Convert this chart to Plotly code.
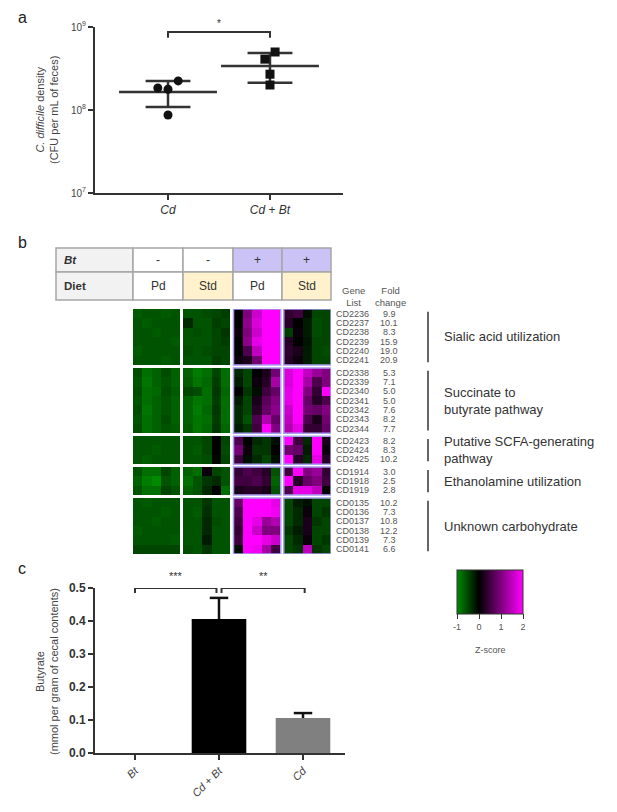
import plotly.graph_objects as go

W, H = 617, 812
FONT = "Liberation Sans, Arial, sans-serif"


def px(x):
    return x / W


def py(y):
    return 1 - y / H


# ---------------- Panel a data ----------------
group_a_labels = ["<i>Cd</i>", "<i>Cd</i> + <i>Bt</i>"]
cd_density = [1.84e8, 1.78e8, 2.24e8, 0.87e8]
cdbt_density = [4.1e8, 5.0e8, 2.7e8, 2.0e8]
cd_jitter = [-0.1, 0.0, 0.1, 0.0]
cdbt_jitter = [-0.05, 0.05, 0.0, 0.0]
density_mean = [1.65e8, 3.4e8]
density_upper = [2.24e8, 4.85e8]
density_lower = [1.09e8, 2.13e8]
density_ticks = [1e7, 1e8, 1e9]
density_ticktext = ["10<sup>7</sup>", "10<sup>8</sup>", "10<sup>9</sup>"]
sig_a = [(1, 2, "*", 8.7e8, 7.4e8)]

# ---------------- Panel c data ----------------
group_c_labels = ["<i>Bt</i>", "<i>Cd</i> + <i>Bt</i>", "<i>Cd</i>"]
butyrate_mean = [0.0, 0.406, 0.106]
butyrate_err = [0.0, 0.064, 0.015]
bar_colors = ["#000000", "#000000", "#808080"]
butyrate_ticks = [0.0, 0.1, 0.2, 0.3, 0.4, 0.5]
sig_c = [(0, 0.97, "***", 0.5, 0.485), (1.03, 2.02, "**", 0.5, 0.485)]

# ---------------- Panel b data ----------------
bt_row = ["-", "-", "+", "+"]
diet_row = ["Pd", "Std", "Pd", "Std"]

genes_sialic = ["CD2236", "CD2237", "CD2238", "CD2239", "CD2240", "CD2241"]
fold_sialic = ["9.9", "10.1", "8.3", "15.9", "19.0", "20.9"]
genes_succinate = ["CD2338", "CD2339", "CD2340", "CD2341", "CD2342", "CD2343", "CD2344"]
fold_succinate = ["5.3", "7.1", "5.0", "5.0", "7.6", "8.2", "7.7"]
genes_scfa = ["CD2423", "CD2424", "CD2425"]
fold_scfa = ["8.2", "8.3", "10.2"]
genes_ethanolamine = ["CD1914", "CD1918", "CD1919"]
fold_ethanolamine = ["3.0", "2.5", "2.8"]
genes_unknown = ["CD0135", "CD0136", "CD0137", "CD0138", "CD0139", "CD0141"]
fold_unknown = ["10.2", "7.3", "10.8", "12.2", "7.3", "6.6"]

pathways = ["Sialic acid utilization", "Succinate to<br>butyrate pathway",
            "Putative SCFA-generating<br>pathway", "Ethanolamine utilization",
            "Unknown carbohydrate"]

# z-scores: each row = 4 groups x 5 samples (-Bt Pd, -Bt Std, +Bt Pd, +Bt Std)
z_sialic = [
    [-0.65, -0.6, -0.6, -0.65, -0.6, -0.6, -0.6, -0.55, -0.5, -0.45, 0.0, 1.0, 1.6, 2.0, 2.0, 0.4, 0.5, -0.1, -0.5, -0.5],
    [-0.6, -0.65, -0.6, -0.6, -0.6, -0.3, -0.6, -0.6, -0.45, -0.5, 0.0, 1.1, 1.7, 2.0, 2.0, 0.3, 0.0, -0.2, -0.55, -0.5],
    [-0.6, -0.6, -0.65, -0.6, -0.6, -0.6, -0.55, -0.6, -0.5, -0.4, 0.1, 1.0, 1.6, 2.0, 2.0, -0.45, 0.1, -0.2, -0.55, -0.5],
    [-0.6, -0.6, -0.6, -0.6, -0.65, -0.6, -0.6, -0.6, -0.5, -0.45, 0.0, 1.1, 1.8, 2.0, 2.0, 0.3, 0.0, -0.15, -0.5, -0.5],
    [-0.65, -0.6, -0.6, -0.6, -0.6, -0.55, -0.6, -0.55, -0.5, -0.5, 0.0, 0.6, 1.5, 2.0, 2.0, 0.35, 0.2, -0.2, -0.5, -0.55],
    [-0.6, -0.6, -0.6, -0.65, -0.6, -0.6, -0.6, -0.6, -0.45, -0.5, 0.1, 0.2, 0.9, 2.0, 2.0, 0.3, 0.1, -0.2, -0.5, -0.5],
]
z_succinate = [
    [-0.55, -0.8, -0.7, -0.55, -0.7, -0.7, -0.9, -0.8, -0.5, -0.8, -0.3, -0.5, 0.0, 0.2, 0.9, 1.7, 2.0, 1.5, 1.2, 1.0],
    [-0.6, -0.85, -0.7, -0.6, -0.7, -0.65, -0.85, -0.75, -0.45, -0.8, -0.2, -0.5, 0.1, 0.3, 1.3, 1.7, 2.0, 1.3, 0.6, 1.0],
    [-0.55, -0.8, -0.75, -0.55, -0.65, -0.5, -0.55, -0.8, -0.4, -0.75, 0.0, -0.4, -0.1, 0.5, 0.8, 1.8, 2.0, 1.0, 0.4, 2.0],
    [-0.6, -0.8, -0.7, -0.6, -0.7, -0.7, -0.85, -0.8, -0.45, -0.8, -0.2, -0.5, 0.2, 0.7, 1.0, 1.8, 2.0, 0.8, 0.3, 0.6],
    [-0.55, -0.85, -0.7, -0.6, -0.7, -0.7, -0.9, -0.75, -0.4, -0.8, -0.3, -0.5, 0.3, 0.8, 1.1, 1.6, 2.0, 0.9, 0.8, 1.0],
    [-0.6, -0.8, -0.7, -0.55, -0.7, -0.7, -0.85, -0.8, -0.45, -0.8, -0.3, -0.6, 0.6, 1.4, 0.8, 1.5, 2.0, 0.6, 0.2, 0.9],
    [-0.55, -0.8, -0.7, -0.6, -0.65, -0.65, -0.85, -0.75, -0.4, -0.75, -0.2, -0.4, 0.5, 2.0, 1.0, 1.4, 1.8, 0.4, 0.4, 0.8],
]
z_scfa = [
    [-0.6, -0.6, -0.6, -0.6, -0.6, -0.6, -0.6, -0.5, 0.0, -0.5, 0.6, 0.0, -0.3, -0.4, -0.1, 2.0, 0.5, -0.3, 2.0, 0.2],
    [-0.6, -0.6, -0.65, -0.6, -0.6, -0.6, -0.65, -0.5, 0.0, -0.55, 0.9, 0.1, -0.4, -0.4, 0.0, 0.9, 0.8, -0.2, 2.0, 0.1],
    [-0.6, -0.65, -0.6, -0.6, -0.6, -0.6, -0.6, -0.55, -0.05, -0.5, 0.5, -0.1, -0.3, -0.5, -0.1, 2.0, 0.3, -0.3, 1.8, 0.3],
]
z_ethanolamine = [
    [-0.6, -0.8, -0.8, -0.5, -0.7, -0.7, -0.8, 0.1, -0.5, -0.6, 0.4, 0.6, 0.5, 0.3, -0.6, 0.5, 2.0, 1.0, 1.2, 0.4],
    [-0.7, -0.9, -1.0, -0.6, -0.7, -0.8, -0.6, -0.4, -0.3, -0.6, 0.5, 0.5, 0.6, 0.4, -0.7, 2.0, 0.3, 0.8, 1.0, 0.5],
    [-0.6, -0.8, -0.8, -0.5, -0.6, -0.7, -0.6, -0.3, 0.0, -0.8, 0.2, 0.3, 0.3, 0.2, -0.6, 0.6, 1.8, 1.8, 1.5, 0.0],
]
z_unknown = [
    [-0.6, -0.65, -0.6, -0.6, -0.6, -0.6, -0.6, -0.4, -0.6, -0.6, 0.8, 2.0, 2.0, 2.0, 1.8, -0.5, -0.2, -0.1, -0.5, -0.5],
    [-0.6, -0.6, -0.6, -0.65, -0.6, -0.6, -0.65, -0.35, -0.6, -0.6, 0.6, 2.0, 2.0, 2.0, 1.9, -0.5, -0.3, 0.1, -0.5, -0.4],
    [-0.6, -0.6, -0.65, -0.6, -0.6, -0.6, -0.6, -0.3, -0.55, -0.6, 0.5, 2.0, 1.8, 1.2, 1.4, -0.5, -0.3, 0.2, -0.4, -0.5],
    [-0.65, -0.6, -0.6, -0.6, -0.6, -0.6, -0.6, -0.3, -0.6, -0.6, 0.4, 2.0, 1.6, 1.0, 1.0, -0.4, -0.2, 0.2, -0.5, -0.5],
    [-0.6, -0.6, -0.6, -0.6, -0.65, -0.6, -0.6, -0.2, -0.6, -0.6, 0.5, 2.0, 2.0, 1.8, 1.6, -0.5, -0.3, 0.1, -0.5, -0.4],
    [-0.5, -0.5, -0.5, -0.5, -0.5, -0.55, -0.6, -0.4, -0.6, -0.6, -0.1, 2.0, 1.9, 1.3, 0.5, -0.5, -0.4, 1.5, -0.4, -0.5],
]

heat_groups = [z_sialic, z_succinate, z_scfa, z_ethanolamine, z_unknown]
gene_groups = [genes_sialic, genes_succinate, genes_scfa, genes_ethanolamine, genes_unknown]
fold_groups = [fold_sialic, fold_succinate, fold_scfa, fold_ethanolamine, fold_unknown]

colorscale = [[0, "#008a00"], [1 / 3, "#000000"], [1, "#ff00ff"]]

# ---------------- Build heatmap grid with gaps ----------------
N_BLOCK, PER_BLOCK, GAP = 4, 5, 0.32
xe = [0.0]
block_spans = []
for b in range(N_BLOCK):
    if b > 0:
        xe.append(xe[-1] + GAP)
    s = xe[-1]
    for c in range(PER_BLOCK):
        xe.append(xe[-1] + 1)
    block_spans.append((s, xe[-1]))
ncols = len(xe) - 1

ye = [0.0]
zrows = []
row_centers = []
group_spans = []
for g, rows in enumerate(heat_groups):
    if g > 0:
        ye.append(ye[-1] + GAP)
        zrows.append([None] * ncols)
    s = ye[-1]
    for r in rows:
        nr = []
        for b in range(N_BLOCK):
            if b > 0:
                nr.append(None)
            nr.extend(r[b * PER_BLOCK:(b + 1) * PER_BLOCK])
        zrows.append(nr)
        row_centers.append(ye[-1] + 0.5)
        ye.append(ye[-1] + 1)
    group_spans.append((s, ye[-1]))

fig = go.Figure()

# ---------------- Panel a traces ----------------
axis_col = "#333333"
for i, m in enumerate(density_mean):
    xc = i + 1
    fig.add_trace(go.Scatter(x=[xc - 0.48, xc + 0.48], y=[m, m], mode="lines",
                             line=dict(color=axis_col, width=2.5), xaxis="x", yaxis="y",
                             showlegend=False, hoverinfo="skip"))
    fig.add_trace(go.Scatter(
        x=[xc, xc, None, xc - 0.22, xc + 0.22, None, xc - 0.22, xc + 0.22],
        y=[density_lower[i], density_upper[i], None, density_upper[i], density_upper[i], None,
           density_lower[i], density_lower[i]],
        mode="lines", line=dict(color=axis_col, width=2.5), xaxis="x", yaxis="y",
        showlegend=False, hoverinfo="skip"))

fig.add_trace(go.Scatter(x=[1 + j for j in cd_jitter], y=cd_density, mode="markers",
                         marker=dict(symbol="circle", size=9, color="#111"),
                         xaxis="x", yaxis="y", showlegend=False))
fig.add_trace(go.Scatter(x=[2 + j for j in cdbt_jitter], y=cdbt_density, mode="markers",
                         marker=dict(symbol="square", size=9, color="#111"),
                         xaxis="x", yaxis="y", showlegend=False))

annotations = []


def ann(**kw):
    kw.setdefault("showarrow", False)
    kw.setdefault("xanchor", "center")
    kw.setdefault("yanchor", "middle")
    annotations.append(kw)


for (a, b, txt, ytop, ytip) in sig_a:
    fig.add_trace(go.Scatter(x=[a, a, b, b], y=[ytip, ytop, ytop, ytip], mode="lines",
                             line=dict(color=axis_col, width=2), xaxis="x", yaxis="y",
                             showlegend=False, hoverinfo="skip", cliponaxis=False))
    ann(x=(a + b) / 2, y=9.0, xref="x", yref="y", text=txt, yanchor="bottom", yshift=-4,
        font=dict(size=10, color="#333", family=FONT))

# ---------------- Panel b heatmap ----------------
fig.add_trace(go.Heatmap(
    z=zrows, x=xe, y=ye, xaxis="x2", yaxis="y2", zmin=-1, zmax=2,
    colorscale=colorscale, hoverinfo="skip",
    colorbar=dict(orientation="h", x=px(490), xanchor="center", y=py(570), yanchor="top",
                  len=66, lenmode="pixels", thickness=44, thicknessmode="pixels",
                  outlinewidth=1, outlinecolor="#333", ticks="outside", ticklen=5,
                  tickcolor="#333", tickvals=[-1, 0, 1, 2], ticktext=["-1", "0", "1", "2"],
                  xpad=0, ypad=0,
                  tickfont=dict(size=9, color="#555", family=FONT)),
))

# ---------------- Panel c traces ----------------
fig.add_trace(go.Bar(x=[0, 1, 2], y=butyrate_mean, width=0.65, marker=dict(color=bar_colors, line=dict(width=0)),
                     xaxis="x3", yaxis="y3", showlegend=False, hoverinfo="skip"))
ex, ey = [], []
for i, (m, e) in enumerate(zip(butyrate_mean, butyrate_err)):
    if e > 0:
        ex += [i, i, None, i - 0.11, i + 0.11, None]
        ey += [m, m + e, None, m + e, m + e, None]
fig.add_trace(go.Scatter(x=ex, y=ey, mode="lines", line=dict(color="#111", width=2.5),
                         xaxis="x3", yaxis="y3", showlegend=False, hoverinfo="skip", cliponaxis=False))
for (a, b, txt, ytop, ytip) in sig_c:
    fig.add_trace(go.Scatter(x=[a, a, b, b], y=[ytip, ytop, ytop, ytip], mode="lines",
                             line=dict(color=axis_col, width=2), xaxis="x3", yaxis="y3",
                             showlegend=False, hoverinfo="skip", cliponaxis=False))
    ann(x=(a + b) / 2, y=ytop, xref="x3", yref="y3", text=txt, yanchor="bottom", yshift=4,
        font=dict(size=11, color="#333", family=FONT))

# ---------------- Shapes: table, outlines, pathway bars ----------------
shapes = []
tcols = [56, 133, 183, 233, 282, 331]
trows = [248, 272, 300]
lav = "#cbc3f6"
yel = "#fff2cc"
row_fills = [["#f2f2f2", "white", "white", lav, lav],
             ["#f2f2f2", "white", yel, "white", yel]]
row_texts = [["<b><i>Bt</i></b>"] + bt_row, ["<b>Diet</b>"] + diet_row]
for r in range(2):
    for c in range(5):
        shapes.append(dict(type="rect", xref="paper", yref="paper",
                           x0=px(tcols[c]), x1=px(tcols[c + 1]), y0=py(trows[r + 1]), y1=py(trows[r]),
                           fillcolor=row_fills[r][c], line=dict(color="#a6a6a6", width=1.5), layer="below"))
        yc = py((trows[r] + trows[r + 1]) / 2)
        if c == 0:
            ann(x=px(tcols[0] + 6), y=yc, xref="paper", yref="paper", text=row_texts[r][c], xanchor="left",
                font=dict(size=11.5, color="#333", family=FONT))
        else:
            ann(x=px((tcols[c] + tcols[c + 1]) / 2), y=yc, xref="paper", yref="paper", text=row_texts[r][c],
                font=dict(size=12, color="#333", family=FONT))

for b in (2, 3):
    for (gs, gend) in group_spans:
        shapes.append(dict(type="rect", xref="x2", yref="y2", x0=block_spans[b][0], x1=block_spans[b][1],
                           y0=gs, y1=gend, line=dict(color="#a99ff0", width=1.5)))

for g, (gs, gend) in enumerate(group_spans):
    shapes.append(dict(type="line", xref="paper", yref="y2", x0=px(428), x1=px(428),
                       y0=gs + 0.3, y1=gend - 0.3, line=dict(color="#666", width=2)))
    ann(x=px(442), y=(gs + gend) / 2, xref="paper", yref="y2", text=pathways[g],
        xanchor="left", align="left", font=dict(size=13, color="#333", family=FONT))

k = 0
for genes, folds in zip(gene_groups, fold_groups):
    for gname, fc in zip(genes, folds):
        ann(x=px(352), y=row_centers[k], xref="paper", yref="y2", text=gname,
            font=dict(size=9, color="#555", family=FONT))
        ann(x=px(389), y=row_centers[k], xref="paper", yref="y2", text=fc,
            font=dict(size=9, color="#555", family=FONT))
        k += 1

ann(x=px(354), y=py(296), xref="paper", yref="paper", text="Gene<br>List",
    font=dict(size=9.5, color="#555", family=FONT))
ann(x=px(390), y=py(296), xref="paper", yref="paper", text="Fold<br>change",
    font=dict(size=9.5, color="#555", family=FONT))
ann(x=px(490), y=py(650), xref="paper", yref="paper", text="Z-score",
    font=dict(size=9, color="#555", family=FONT))
ann(x=px(22), y=py(17), xref="paper", yref="paper", text="a", font=dict(size=16, color="#222", family=FONT))
ann(x=px(22), y=py(242), xref="paper", yref="paper", text="b", font=dict(size=16, color="#222", family=FONT))
ann(x=px(22), y=py(568), xref="paper", yref="paper", text="c", font=dict(size=16, color="#222", family=FONT))
ann(x=px(47), y=py(110), xref="paper", yref="paper", textangle=-90,
    text="<i>C. difficile</i> density<br>(CFU per mL of feces)",
    font=dict(size=11, color="#444", family=FONT))
ann(x=px(47), y=py(672), xref="paper", yref="paper", textangle=-90,
    text="Butyrate<br>(mmol per gram of cecal contents)",
    font=dict(size=11, color="#444", family=FONT))

axis_common = dict(showgrid=False, zeroline=False, showline=True, linewidth=2, linecolor=axis_col,
                   ticks="outside", ticklen=5, tickwidth=2, tickcolor=axis_col, fixedrange=True,
                   automargin=False)

fig.update_layout(
    width=W, height=H, margin=dict(l=0, r=0, t=0, b=0, pad=0, autoexpand=False),
    paper_bgcolor="white", plot_bgcolor="white", showlegend=False, hovermode=False,
    font=dict(family=FONT),
    xaxis=dict(domain=[px(95), px(343)], range=[0.284, 2.716], tickvals=[1, 2], ticktext=group_a_labels,
               anchor="y", tickfont=dict(size=12, color="#333"), **axis_common),
    yaxis=dict(domain=[py(193), py(27)], type="log", range=[7, 9], tickvals=density_ticks,
               ticktext=density_ticktext, anchor="x", tickfont=dict(size=10, color="#444"), **axis_common),
    xaxis2=dict(domain=[px(133), px(331)], range=[xe[0], xe[-1]], visible=False, anchor="y2",
                fixedrange=True, automargin=False),
    yaxis2=dict(domain=[py(554), py(309)], range=[ye[-1], ye[0]], visible=False, anchor="x2",
                fixedrange=True, automargin=False),
    xaxis3=dict(domain=[px(95), px(345)], range=[-0.476, 2.5], tickvals=[0, 1, 2], ticktext=group_c_labels,
                tickangle=-45, anchor="y3", tickfont=dict(size=11, color="#444"), **axis_common),
    yaxis3=dict(domain=[py(753), py(588)], range=[0, 0.5], tickvals=butyrate_ticks,
                ticktext=["<b>%.1f</b>" % v for v in butyrate_ticks], anchor="x3",
                tickfont=dict(size=12, color="#333"), **axis_common),
    shapes=shapes, annotations=annotations,
)

fig.write_html("out.html", config={"displayModeBar": False},
               post_script="document.body.style.margin='0';")
